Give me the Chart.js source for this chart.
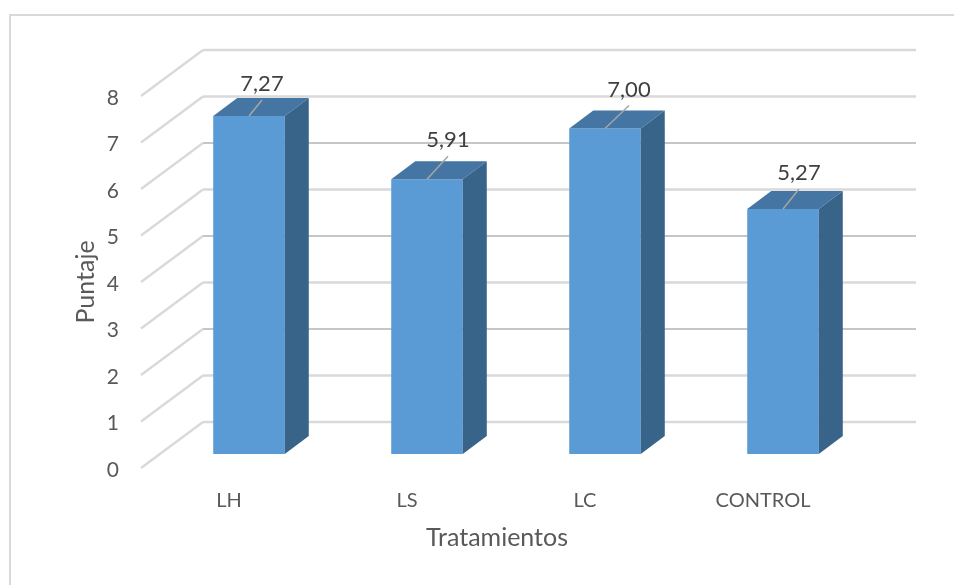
<!DOCTYPE html>
<html>
<head>
<meta charset="utf-8">
<style>
  html, body { margin: 0; padding: 0; background: #fff; }
  canvas { display: block; }
</style>
<script src="https://cdn.jsdelivr.net/npm/chart.js@4"></script>
</head>
<body>
<canvas id="chart" width="954" height="585"></canvas>
<script>
const categories = ['LH', 'LS', 'LC', 'CONTROL'];
const puntajes = [7.27, 5.91, 7.00, 5.27];
const yTicks = [0, 1, 2, 3, 4, 5, 6, 7, 8];

// leader line end, measured from the bar's top centre, one per bar
const leaderX = [13, 21, 24, 16];
const leaderY = [16, 23, 23, 20];

// chart area is the front edge of the floor, everything else is pushed back from it
const wallDepth = { x: 62, y: -46 };
const barFront = { x: 19, y: -14 };
const barDepth = { x: 24, y: -18 };

const gridColor = '#d9d9d9';
const gridDark = '#c6c6c6';

function line(ctx, x1, y1, x2, y2) {
    ctx.beginPath();
    ctx.moveTo(x1, y1);
    ctx.lineTo(x2, y2);
    ctx.stroke();
}

function face(ctx, color, pts) {
    ctx.fillStyle = color;
    ctx.beginPath();
    pts.forEach((p, i) => i ? ctx.lineTo(p[0], p[1]) : ctx.moveTo(p[0], p[1]));
    ctx.closePath();
    ctx.fill();
}

const wallPlugin = {
    id: 'wall',
    beforeDraw(chart) {
        const ctx = chart.ctx;
        const area = chart.chartArea;
        const y = chart.scales.y;
        ctx.save();
        ctx.strokeStyle = gridColor;
        ctx.lineWidth = 2;
        // outer frame
        line(ctx, 10, 15, 954, 15);
        line(ctx, 10, 14, 10, 585);
        yTicks.forEach(v => {
            const py = y.getPixelForValue(v);
            ctx.strokeStyle = gridColor;
            ctx.lineWidth = 2.4;
            line(ctx, area.left, py, area.left + wallDepth.x, py + wallDepth.y);
            // the even lines in the middle came out thinner and darker in the picture
            if (v === 2 || v === 4 || v === 6) {
                ctx.strokeStyle = gridDark;
                ctx.lineWidth = 2;
            }
            line(ctx, area.left + wallDepth.x, py + wallDepth.y, area.right + wallDepth.x + 1, py + wallDepth.y);
        });
        ctx.restore();
    },
    beforeDatasetDraw(chart) {
        chart.ctx.save();
        chart.ctx.translate(barFront.x, barFront.y);
    },
    afterDatasetDraw(chart) {
        chart.ctx.restore();
    },
    afterDatasetsDraw(chart) {
        const ctx = chart.ctx;
        const bars = chart.getDatasetMeta(0).data;
        ctx.save();
        bars.forEach((bar, i) => {
            const l = bar.x - bar.width / 2 + barFront.x;
            const r = bar.x + bar.width / 2 + barFront.x;
            const t = bar.y + barFront.y;
            const b = bar.base + barFront.y;
            const dx = barDepth.x;
            const dy = barDepth.y;
            face(ctx, '#4575a2', [[l, t], [r, t], [r + dx, t + dy], [l + dx, t + dy]]);
            face(ctx, '#38648a', [[r, t], [r + dx, t + dy], [r + dx, b + dy], [r, b]]);

            // leader line and value
            const cx = bar.x + barFront.x;
            const endX = cx + leaderX[i];
            const endY = t - leaderY[i];
            ctx.strokeStyle = '#a6a6a6';
            ctx.lineWidth = 1.5;
            line(ctx, cx, t, endX, endY);
            ctx.fillStyle = '#404040';
            ctx.font = '22px Lato';
            ctx.textAlign = 'center';
            ctx.textBaseline = 'middle';
            ctx.fillText(puntajes[i].toFixed(2).replace('.', ','), endX, endY - 16);
        });
        ctx.restore();
    }
};

new Chart(document.getElementById('chart'), {
    type: 'bar',
    data: {
        labels: categories,
        datasets: [{
            data: puntajes,
            backgroundColor: '#5b9bd5',
            categoryPercentage: 1,
            barPercentage: 0.402
        }]
    },
    options: {
        responsive: false,
        animation: false,
        layout: { padding: { top: 96, right: 101, left: 71, bottom: 32 } },
        plugins: { legend: { display: false }, tooltip: { enabled: false } },
        scales: {
            x: {
                grid: { display: false },
                border: { display: false },
                ticks: { color: '#595959', font: { family: 'Lato', size: 20 }, padding: 13, labelOffset: -1 },
                title: { display: true, text: 'Tratamientos', color: '#595959', font: { family: 'Lato', size: 25 }, padding: 0 },
                afterFit(scale) { scale.height = 85; }
            },
            y: {
                min: 0,
                max: 8,
                afterBuildTicks(scale) { scale.ticks = yTicks.map(v => ({ value: v })); },
                grid: { display: false },
                border: { display: false },
                ticks: { color: '#595959', font: { family: 'Lato', size: 21 }, padding: 14, labelOffset: 2, callback: v => v },
                title: { display: true, text: 'Puntaje', color: '#595959', font: { family: 'Lato', size: 25 }, padding: 0 },
                afterFit(scale) { scale.width = 70; }
            }
        }
    },
    plugins: [wallPlugin]
});
</script>
</body>
</html>
